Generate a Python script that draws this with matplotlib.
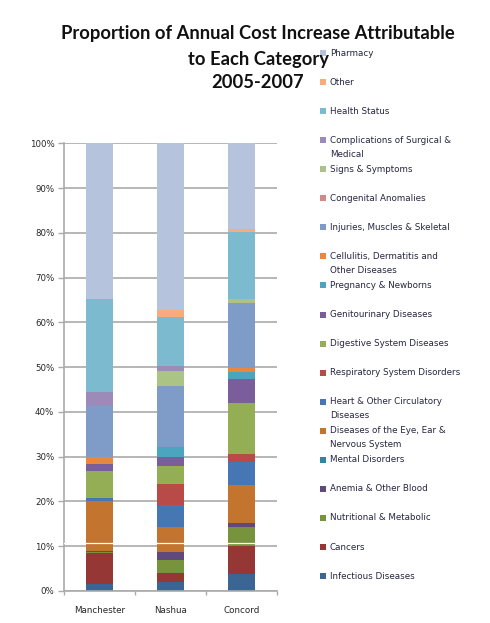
import matplotlib
matplotlib.use("Agg")
import matplotlib.pyplot as plt
from matplotlib.patches import Rectangle

# ---------------- data ----------------
sites = ["Manchester", "Nashua", "Concord"]

# categories in stacking order (bottom -> top)
categories = [
    "Infectious Diseases", "Cancers", "Nutritional & Metabolic", "Anemia & Other Blood",
    "Mental Disorders", "Diseases of the Eye, Ear & Nervous System",
    "Heart & Other Circulatory Diseases", "Respiratory System Disorders",
    "Digestive System Diseases", "Genitourinary Diseases", "Pregnancy & Newborns",
    "Cellulitis, Dermatitis and Other Diseases", "Injuries, Muscles & Skeletal",
    "Congenital Anomalies", "Signs & Symptoms", "Complications of Surgical & Medical",
    "Health Status", "Other", "Pharmacy",
]

manchester = [1.6, 6.9, 0.2, 0.2, 0.0, 11.1, 0.7, 0.0, 6.2, 1.5, 0.0, 1.6, 11.4, 0.0, 0.0, 3.1, 20.8, 0.0, 34.7]
nashua     = [1.9, 2.1, 3.0, 1.6, 0.0, 5.7, 4.8, 4.8, 4.0, 2.1, 2.2, 0.0, 13.6, 0.0, 3.3, 1.2, 10.8, 1.6, 37.3]
concord    = [3.7, 6.3, 4.3, 0.9, 0.0, 8.4, 5.2, 1.9, 11.2, 5.4, 1.7, 0.8, 14.5, 0.0, 0.9, 0.0, 14.9, 0.8, 19.1]

yticks = list(range(0, 101, 10))
ytick_labels = [f"{v}%" for v in yticks]

colors = [
    "#3B6593", "#953735", "#77933C", "#604A7B", "#31859C", "#C3742F",
    "#4776B4", "#B84A47", "#93AE55", "#7A5E9B", "#4BA5BE", "#E9873E",
    "#7F9BC8", "#D28A89", "#ABC486", "#9C8BB9", "#7CBACF", "#F8AB7C", "#B5C3DD",
]

# legend labels (display lines)
legend_lines = {
    "Complications of Surgical & Medical": ["Complications of Surgical &", "Medical"],
    "Cellulitis, Dermatitis and Other Diseases": ["Cellulitis, Dermatitis and", "Other Diseases"],
    "Heart & Other Circulatory Diseases": ["Heart & Other Circulatory", "Diseases"],
    "Diseases of the Eye, Ear & Nervous System": ["Diseases of the Eye, Ear &", "Nervous System"],
}

W, H = 490, 623
fig = plt.figure(figsize=(W / 100, H / 100), dpi=100)
fig.patch.set_facecolor("white")

ax = fig.add_axes([64 / W, 1 - 591 / H, (277 - 64) / W, (591 - 143.3) / H])

series = list(zip(*[manchester, nashua, concord]))
x = list(range(len(sites)))
bottom = [0.0] * len(sites)
for cat, vals, col in zip(categories, series, colors):
    ax.bar(x, vals, width=0.39, bottom=bottom, color=col, edgecolor="none", zorder=2)
    bottom = [b + v for b, v in zip(bottom, vals)]

ax.axhline(10.8, color="white", lw=0.9, zorder=3)

ax.set_xlim(-0.5, 2.5)
ax.set_ylim(0, 100)
ax.set_yticks(yticks)
ax.set_yticklabels(ytick_labels)
ax.yaxis.grid(True, color="#AAAAAA", lw=1.2, zorder=0)
ax.set_axisbelow(True)

ax.set_xticks(x)
ax.set_xticklabels(sites)
ax.set_xticks([-0.5, 0.5, 1.5, 2.5], minor=True)
ax.tick_params(axis="x", which="major", length=0, pad=11, labelsize=6.3, labelcolor="#262626")
ax.tick_params(axis="x", which="minor", length=3, width=1, color="#AAAAAA", direction="out")
ax.tick_params(axis="y", length=4, width=1, color="#AAAAAA", direction="out", pad=3,
               labelsize=6.2, labelcolor="#262626")

for s in ["top", "right"]:
    ax.spines[s].set_visible(False)
for s in ["left", "bottom"]:
    ax.spines[s].set_color("#AAAAAA")
    ax.spines[s].set_linewidth(1.2)

# title
title_lines = ["Proportion of Annual Cost Increase Attributable", "to Each Category", "2005-2007"]
for line, yy in zip(title_lines, [33, 60, 83]):
    fig.text(258 / W, 1 - yy / H, line, ha="center", va="center", fontsize=13.2,
             fontweight="bold", family="Lato", color="#111111")

# legend (manual, uniform spacing)
y0, dy = 53, 29.06
for i, (cat, col) in enumerate(zip(categories[::-1], colors[::-1])):
    yy = y0 + i * dy
    fig.patches.append(Rectangle((320 / W, 1 - (yy + 3) / H), 6 / W, 6 / H,
                                 transform=fig.transFigure, facecolor=col, edgecolor="none"))
    lines = legend_lines.get(cat, [cat])
    for j, ln in enumerate(lines):
        fig.text(330 / W, 1 - (yy + j * 14) / H, ln, ha="left", va="center",
                 fontsize=6.3, color="#262640")

fig.savefig("out.png", dpi=100)
